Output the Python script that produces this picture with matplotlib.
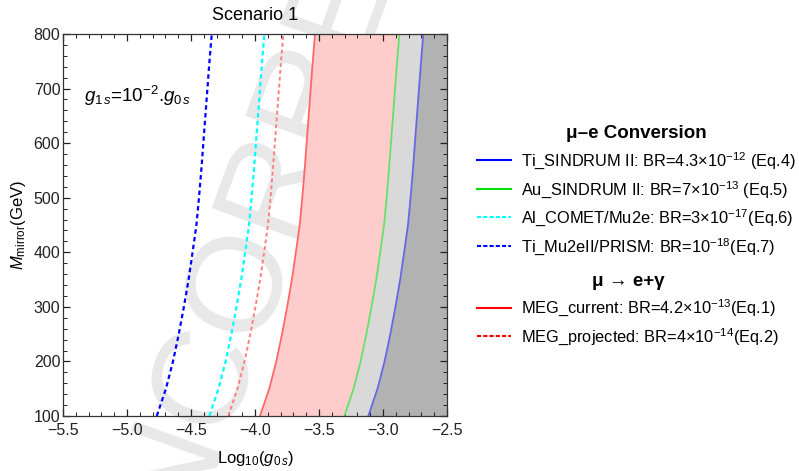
import numpy as np
import matplotlib
matplotlib.use('Agg')
import matplotlib.pyplot as plt
from matplotlib.lines import Line2D
from matplotlib.ticker import MultipleLocator, FuncFormatter

plt.rcParams['font.family'] = ['Liberation Sans', 'DejaVu Sans']
plt.rcParams['mathtext.fontset'] = 'custom'
plt.rcParams['mathtext.rm'] = 'Liberation Sans'
plt.rcParams['mathtext.it'] = 'Liberation Sans:italic'
plt.rcParams['mathtext.bf'] = 'Liberation Sans:bold'

# mirror mass grid (GeV) and log10(g0s) bound for each constraint
M_mirror = [100, 150, 200, 250, 300, 350, 400, 450, 500, 550, 600, 650, 700, 750, 800]
ti_sindrum = [-3.115, -3.043, -2.988, -2.943, -2.903, -2.866, -2.835, -2.805, -2.785,
              -2.767, -2.751, -2.735, -2.719, -2.703, -2.685]
au_sindrum = [-3.302, -3.230, -3.175, -3.130, -3.090, -3.053, -3.022, -2.992, -2.972,
              -2.954, -2.938, -2.922, -2.906, -2.890, -2.872]
al_comet = [-4.357, -4.285, -4.230, -4.185, -4.145, -4.108, -4.077, -4.047, -4.027,
            -4.009, -3.993, -3.977, -3.961, -3.945, -3.927]
ti_prism = [-4.768, -4.696, -4.641, -4.596, -4.556, -4.519, -4.488, -4.458, -4.438,
            -4.420, -4.404, -4.388, -4.372, -4.356, -4.338]
meg_current = [-3.961, -3.889, -3.834, -3.789, -3.749, -3.712, -3.681, -3.651, -3.631,
               -3.613, -3.597, -3.581, -3.565, -3.549, -3.531]
meg_projected = [-4.209, -4.137, -4.082, -4.037, -3.997, -3.960, -3.929, -3.899, -3.879,
                 -3.861, -3.845, -3.829, -3.813, -3.797, -3.779]

conv_labels = [r'Ti_SINDRUM II: BR=4.3×10$^{-12}$ (Eq.4)',
               r'Au_SINDRUM II: BR=7×10$^{-13}$ (Eq.5)',
               r'Al_COMET/Mu2e: BR=3×10$^{-17}$(Eq.6)',
               r'Ti_Mu2eII/PRISM: BR=10$^{-18}$(Eq.7)']
meg_labels = [r'MEG_current: BR=4.2×10$^{-13}$(Eq.1)',
              r'MEG_projected: BR=4×10$^{-14}$(Eq.2)']

fig = plt.figure(figsize=(7.99, 4.71), dpi=100)
ax = fig.add_axes([0.0789, 0.1168, 0.4806, 0.8110])
ax.patch.set_alpha(0)

# page watermark behind the plot
fig.text(0.159, -0.306, 'UNCORRECTED PROOF', fontsize=98, color='#e8e8e8',
         rotation=70, rotation_mode='anchor', ha='left', va='center', zorder=-5)

xmax = -2.5
ax.fill_betweenx(M_mirror, meg_current, au_sindrum, color='#ffcccc', lw=0, zorder=1)
ax.fill_betweenx(M_mirror, au_sindrum, ti_sindrum, color='#d9d9d9', lw=0, zorder=1)
ax.fill_betweenx(M_mirror, ti_sindrum, [xmax] * len(M_mirror), color='#b2b2b2', lw=0, zorder=1)

ax.plot(meg_current, M_mirror, color='#ff6666', lw=1.3, zorder=3)
ax.plot(au_sindrum, M_mirror, color='#66e066', lw=1.3, zorder=3)
ax.plot(ti_sindrum, M_mirror, color='#6666e0', lw=1.3, zorder=3)
ax.plot(ti_prism, M_mirror, color='#0000ff', lw=1.6, ls=(0, (2, 1.5)), zorder=3)
ax.plot(al_comet, M_mirror, color='#00ffff', lw=1.6, ls=(0, (2, 1.5)), zorder=3)
ax.plot(meg_projected, M_mirror, color='#ff8080', lw=1.4, ls=(0, (2, 1.5)), zorder=3)

ax.set_xlim(-5.5, xmax)
ax.set_ylim(100, 800)
ax.xaxis.set_major_locator(MultipleLocator(0.5))
ax.xaxis.set_minor_locator(MultipleLocator(0.1))
ax.yaxis.set_major_locator(MultipleLocator(100))
ax.yaxis.set_minor_locator(MultipleLocator(20))
ax.xaxis.set_major_formatter(FuncFormatter(lambda v, p: f'{v:.1f}'.replace('-', '\u2212')))
ax.tick_params(which='both', direction='in', top=True, right=True, labelsize=11.5, colors='#222222')
ax.tick_params(which='major', length=5, width=0.9)
ax.tick_params(which='minor', length=2.8, width=0.7)
ax.tick_params(axis='y', pad=2)
ax.tick_params(axis='x', pad=5)
for s in ax.spines.values():
    s.set_color('#333333')
    s.set_linewidth(0.9)
    s.set_zorder(5)

ax.set_title('Scenario 1', fontsize=13, pad=10)
ax.set_xlabel(r'Log$_{10}$($g_{0\,s}$)', fontsize=12, labelpad=8)
ax.set_ylabel(r'$M_{\rm mirror}$(GeV)', fontsize=12, labelpad=4)
ax.text(-5.34, 686, r'$g_{1\,s}$=10$^{-2}$.$g_{0\,s}$', fontsize=13.5, va='center')

conv_handles = [Line2D([], [], color='#0000ff', lw=1.5),
                Line2D([], [], color='#00dd00', lw=1.5),
                Line2D([], [], color='#00ffff', lw=1.5, ls=(0, (2, 1))),
                Line2D([], [], color='#0000ff', lw=1.5, ls=(0, (2, 1)))]
meg_handles = [Line2D([], [], color='#ff0000', lw=1.5),
               Line2D([], [], color='#ff0000', lw=1.5, ls=(0, (2, 1)))]

leg_kw = dict(frameon=False, fontsize=11.8, handlelength=2.1, handletextpad=0.6,
              labelspacing=0.47, borderaxespad=0, borderpad=0,
              title_fontproperties={'weight': 'bold', 'size': 13.5})
leg1 = fig.legend(conv_handles, conv_labels, title='μ–e Conversion',
                  loc='upper left', bbox_to_anchor=(0.597, 0.734), **leg_kw)
leg2 = fig.legend(meg_handles, meg_labels, title='μ → e+γ',
                  loc='upper left', bbox_to_anchor=(0.597, 0.421), **leg_kw)

fig.savefig('out.png', dpi=100)
